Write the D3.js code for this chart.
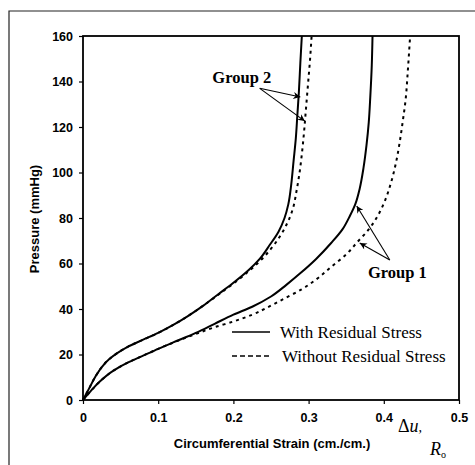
<!DOCTYPE html>
<html><head><meta charset="utf-8">
<script src="https://cdn.jsdelivr.net/npm/d3@7"></script>
<style>body{margin:0;background:#fff}svg{display:block}</style>
</head><body>
<script>
// ---- data ----
const xTicks = [0, 0.1, 0.2, 0.3, 0.4, 0.5];
const yTicks = [0, 20, 40, 60, 80, 100, 120, 140, 160];
const group2With = [[0,0],[0.008,5],[0.016,10],[0.025,14.5],[0.035,18],[0.045,20.5],[0.06,23.5],[0.08,26.5],[0.1,29.5],[0.12,33],[0.14,37],[0.16,41.5],[0.18,46.5],[0.2,51.5],[0.22,57],[0.235,62],[0.248,68],[0.26,74],[0.268,80],[0.273,86],[0.277,95],[0.28,105],[0.283,115],[0.285,125],[0.287,135],[0.289,148],[0.291,160]];
const group2Without = [[0,0],[0.008,5],[0.016,10],[0.025,14.5],[0.035,18],[0.045,20.5],[0.06,23.5],[0.08,26.5],[0.1,29.5],[0.12,33],[0.14,37],[0.16,41.5],[0.18,46.3],[0.2,51.2],[0.22,56.5],[0.235,61],[0.25,66.5],[0.262,72],[0.272,78],[0.279,84],[0.284,92],[0.288,100],[0.291,108],[0.294,118],[0.296,126],[0.299,138],[0.302,150],[0.304,160]];
const group1With = [[0,0],[0.01,3.8],[0.022,8],[0.04,12.8],[0.06,16.5],[0.08,19.5],[0.1,22.5],[0.12,25.3],[0.15,29.5],[0.175,33.5],[0.2,37.5],[0.225,41],[0.25,45.5],[0.27,50.5],[0.29,56],[0.31,62],[0.33,69],[0.345,75],[0.355,81],[0.362,86],[0.368,93],[0.373,102],[0.377,112],[0.38,122],[0.382,133],[0.384,147],[0.385,160]];
const group1Without = [[0,0],[0.01,3.8],[0.022,8],[0.04,12.8],[0.06,16.5],[0.08,19.5],[0.1,22.5],[0.12,25.2],[0.15,29],[0.175,32],[0.2,34.5],[0.225,37.5],[0.25,41.5],[0.27,45],[0.29,48.5],[0.31,53],[0.33,58.5],[0.35,64],[0.365,69.5],[0.38,75],[0.392,81],[0.402,88],[0.41,96],[0.416,104],[0.421,113],[0.425,122],[0.429,132],[0.432,145],[0.435,160]];
const legendLabels = ["With Residual Stress", "Without Residual Stress"];
// annotations in data units: label position, arrow start, arrow tips
const group2Note = {text: "Group 2", at: [0.172, 139.3], from: [0.235, 137], tips: [[0.289, 133.2], [0.295, 122.6]]};
const group1Note = {text: "Group 1", at: [0.379, 53.6], from: [0.408, 61.5], tips: [[0.364, 85.3], [0.368, 69]]};

// ---- layout ----
const W = 475, H = 465;
const m = {left: 83, top: 36, right: 16, bottom: 65};
const svg = d3.select("body").append("svg").attr("width", W).attr("height", H);

svg.append("defs").append("marker")
  .attr("id", "ah").attr("viewBox", "0 0 10 10").attr("refX", 10).attr("refY", 5)
  .attr("markerWidth", 9).attr("markerHeight", 7).attr("markerUnits", "userSpaceOnUse")
  .attr("orient", "auto")
  .append("path").attr("d", "M0,0 L10,5 L0,10 L3,5 Z").attr("fill", "#000");

// outer frame (cut at right/bottom)
svg.append("path").attr("d", `M9,${H+5} L9,11 L${W+5},11`).attr("fill", "none")
  .attr("stroke", "#222").attr("stroke-width", 1.2);

const x = d3.scaleLinear().domain([0, 0.5]).range([m.left, W - m.right]);
const y = d3.scaleLinear().domain([0, 160]).range([H - m.bottom, m.top]);

const tickFont = "bold 12.5px 'Liberation Sans', Arial, sans-serif";
const gx = svg.append("g").attr("transform", `translate(0,${y(0)})`)
  .call(d3.axisBottom(x).tickValues(xTicks).tickFormat(d => d === 0 ? "0" : String(d)).tickSize(4).tickPadding(9));
const gy = svg.append("g").attr("transform", `translate(${x(0)},0)`)
  .call(d3.axisLeft(y).tickValues(yTicks).tickSize(4).tickPadding(6));
[gx, gy].forEach(g => {
  g.selectAll("text").style("font", tickFont).attr("fill", "#000");
  g.selectAll("line").attr("stroke", "#000").attr("stroke-width", 1.2);
  g.select(".domain").remove();
});

// plot frame
svg.append("rect").attr("x", x(0)).attr("y", y(160)).attr("width", x(0.5) - x(0)).attr("height", y(0) - y(160))
  .attr("fill", "none").attr("stroke", "#000").attr("stroke-width", 1.8);

// curves
const line = d3.line().x(d => x(d[0])).y(d => y(d[1])).curve(d3.curveMonotoneY);
const series = [
  {d: group2With, dash: null}, {d: group2Without, dash: "3,4"},
  {d: group1With, dash: null}, {d: group1Without, dash: "3,4"}
];
svg.append("g").selectAll("path").data(series).join("path")
  .attr("d", s => line(s.d)).attr("fill", "none").attr("stroke", "#000")
  .attr("stroke-width", 2).attr("stroke-dasharray", s => s.dash);

// annotations
[group2Note, group1Note].forEach(n => {
  svg.append("text").attr("x", x(n.at[0])).attr("y", y(n.at[1]))
    .text(n.text).style("font", "bold 16.5px 'Liberation Serif', 'Times New Roman', serif");
  n.tips.forEach(t => {
    svg.append("line").attr("x1", x(n.from[0])).attr("y1", y(n.from[1]))
      .attr("x2", x(t[0])).attr("y2", y(t[1]))
      .attr("stroke", "#000").attr("stroke-width", 1.1).attr("marker-end", "url(#ah)");
  });
});

// legend
const lg = svg.append("g");
legendLabels.forEach((lab, i) => {
  const yy = 332 + i * 24;
  lg.append("line").attr("x1", 232).attr("x2", 270).attr("y1", yy).attr("y2", yy)
    .attr("stroke", "#000").attr("stroke-width", 1.6).attr("stroke-dasharray", i ? "5,3" : null);
  lg.append("text").attr("x", i ? 282 : 280).attr("y", yy + 6).text(lab)
    .style("font", "17px 'Liberation Serif', 'Times New Roman', serif");
});

// axis titles
svg.append("text").attr("x", 272).attr("y", 448).attr("text-anchor", "middle")
  .text("Circumferential Strain (cm./cm.)").style("font", "bold 13px 'Liberation Sans', Arial, sans-serif");
svg.append("text").attr("transform", `translate(39,219) rotate(-90)`).attr("text-anchor", "middle")
  .text("Pressure (mmHg)").style("font", "bold 13px 'Liberation Sans', Arial, sans-serif");

// Δu/R₀ label
const sym = svg.append("g").style("font", "italic 18px 'Liberation Serif', 'Times New Roman', serif");
sym.append("text").attr("x", 398).attr("y", 432).html('<tspan font-style="normal">Δ</tspan>u<tspan font-size="14px">,</tspan>');
sym.append("text").attr("x", 430).attr("y", 455).html('R<tspan font-style="normal" font-size="10px" dy="3">o</tspan>');
</script>
</body></html>
